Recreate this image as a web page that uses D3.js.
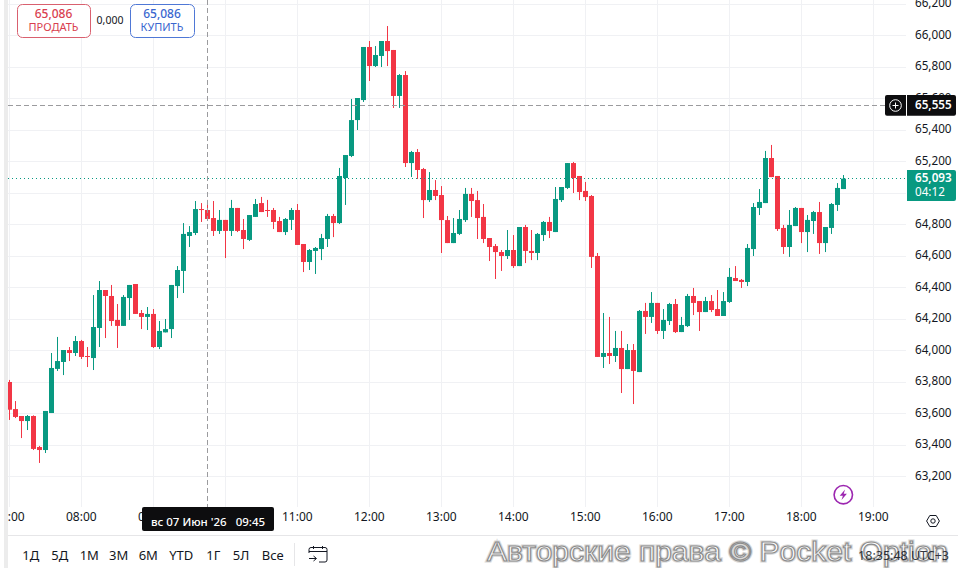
<!DOCTYPE html>
<html lang="ru">
<head>
<meta charset="utf-8">
<title>Свечной график</title>
<script src="https://cdn.jsdelivr.net/npm/d3@7"></script>
<style>
  html, body { margin: 0; padding: 0; background: #fff; overflow: hidden; }
  svg { display: block; }
  text { font-family: "Noto Sans", "Open Sans", sans-serif; }
</style>
</head>
<body>
<svg id="chart" width="958" height="568"></svg>
<script>
// Five-minute candles, session of 07 June 2026 starting at 07:00
const sessionStart = new Date(2026, 5, 7, 7, 0);
const candleMinutes = 5;

const opens = [
  63802,63630,63586,63554,63586,63389,63370,63605,63885,63929,64005,63986,64062,63967,63954,64145,64386,64348,64196,64158,
  64335,64424,64240,64215,64234,64024,64117,64138,64411,64507,64729,64748,64900,64894,64843,64761,64831,64761,64907,64767,
  64704,64850,64938,64894,64894,64824,64754,64831,64894,64678,64564,64634,64646,64710,64856,64811,65097,65237,65465,65592,
  65929,65808,65872,65967,65910,65618,65751,65192,65262,65154,64957,65021,64989,64830,64684,64742,64830,64996,64957,64850,
  64716,64665,64627,64602,64640,64538,64786,64634,64621,64735,64818,64754,64957,65034,65192,65110,65015,64983,64602,63961,
  63986,63967,64018,63884,64005,63865,64253,64215,64304,64126,64189,64297,64119,64157,64348,64316,64246,64316,64265,64221,
  64310,64462,64450,64437,64646,64907,64938,65224,65110,64780,64659,64792,64907,64754,64824,64881,64684,64780,64926,65027
];
const highs = [
  63815,63681,63586,63592,63590,63396,63618,63986,64088,64005,64024,64094,64069,64024,64354,64443,64386,64418,64297,64354,
  64418,64424,64259,64278,64265,64189,64202,64418,64538,64811,64792,64951,64938,64958,64951,64894,64831,64958,64907,64837,
  64862,64964,64977,64958,64907,64850,64843,64907,64932,64678,64646,64659,64742,64869,64869,65161,65243,65599,65605,65929,
  65967,65935,65967,66062,65910,65757,65776,65269,65281,65161,65135,65084,65046,64856,64843,64894,65034,65034,65015,64932,
  64716,64678,64640,64767,64735,64786,64799,64767,64748,64824,64850,65040,65040,65192,65199,65110,65072,64989,64621,64240,
  64215,64126,64126,64043,64043,64259,64304,64373,64304,64265,64304,64329,64215,64361,64399,64316,64342,64354,64386,64373,
  64526,64538,64456,64678,64938,65027,65269,65307,65110,64799,64894,64913,64907,64862,64888,64945,64786,64938,65065,65116
];
const lows = [
  63561,63573,63446,63497,63370,63288,63351,63605,63872,63846,63935,63967,63948,63897,63878,64024,64081,64158,64018,64158,
  64196,64234,64138,64132,64018,64011,64117,64081,64335,64367,64659,64735,64818,64824,64729,64742,64589,64729,64754,64646,
  64697,64850,64881,64850,64773,64754,64735,64767,64672,64500,64513,64488,64576,64659,64722,64805,64926,65230,65402,65580,
  65713,65802,65802,65808,65542,65542,65167,65104,65091,64843,64945,64957,64621,64684,64684,64735,64818,64850,64710,64684,
  64570,64456,64507,64583,64526,64538,64557,64576,64576,64697,64716,64754,64945,65027,65002,64957,64951,64526,63961,63891,
  63916,63929,63732,63884,63662,63865,64107,64177,64107,64075,64164,64113,64119,64151,64227,64126,64246,64246,64221,64221,
  64304,64443,64399,64411,64602,64862,64938,65103,64761,64615,64596,64792,64684,64627,64742,64615,64627,64742,64888,65027
];
const closes = [
  63626,63580,63554,63586,63377,63370,63618,63891,63935,64005,63986,64062,63961,63961,64151,64386,64348,64189,64158,64342,
  64418,64234,64215,64234,64024,64126,64138,64418,64513,64742,64754,64900,64894,64837,64761,64831,64761,64907,64761,64710,
  64862,64932,64881,64888,64818,64754,64837,64894,64672,64564,64640,64653,64716,64856,64811,65110,65243,65465,65605,65929,
  65808,65878,65967,65903,65618,65751,65192,65262,65148,64957,65021,64983,64830,64684,64748,64837,64996,64951,64843,64710,
  64659,64627,64602,64640,64538,64786,64634,64621,64742,64818,64761,64964,65040,65192,65097,65008,64976,64596,63961,63986,
  63967,64018,63884,64005,63872,64253,64215,64304,64126,64196,64297,64119,64164,64348,64304,64246,64316,64259,64221,64316,
  64469,64443,64437,64653,64913,64945,65224,65103,64773,64659,64799,64907,64754,64831,64881,64684,64786,64932,65034,65093
];

const priceTicks = [63200,63400,63600,63800,64000,64200,64400,64600,64800,65000,65200,65400,65600,65800,66000,66200];
const hourTicks = [7,8,9,10,11,12,13,14,15,16,17,18,19];
const rangeButtons = ["1Д","5Д","1М","3М","6М","YTD","1Г","5Л","Все"];

const crosshairPrice = 65555;
const lastPrice = 65093;
const countdown = "04:12";
const crosshairTime = new Date(2026, 5, 7, 9, 45);
const crosshairLabel = "вс 07 Июн '26   09:45";
const sellPrice = "65,086";
const buyPrice = "65,086";
const spreadText = "0,000";
const clockText = "18:35:48 UTC+3";
const copyrightText = "Авторские права © Pocket Option";

const UP = "#089981", DOWN = "#f23645", GRID = "#f0f1f4", INK = "#131722";

const svg = d3.select("#chart");

const x = d3.scaleTime()
  .domain([new Date(2026, 5, 7, 7, 0), new Date(2026, 5, 7, 19, 0)])
  .range([9.3, 873.3]);
const y = d3.scaleLinear()
  .domain([63200, 66200])
  .range([476.8, 4.3]);

// Snap a scaled position to the centre of its device pixel
const crisp = v => Math.floor(v) + 0.5;

const candles = opens.map((open, i) => ({
  time: d3.timeMinute.offset(sessionStart, i * candleMinutes),
  open, high: highs[i], low: lows[i], close: closes[i]
}));

// Grid
const grid = svg.append("g");
grid.selectAll("line.h").data(priceTicks).join("line")
  .attr("class", "h")
  .attr("x1", 8).attr("x2", 906)
  .attr("y1", d => crisp(y(d))).attr("y2", d => crisp(y(d)))
  .attr("stroke", GRID);
grid.selectAll("line.v").data(hourTicks).join("line")
  .attr("class", "v")
  .attr("x1", d => crisp(x(new Date(2026, 5, 7, d))))
  .attr("x2", d => crisp(x(new Date(2026, 5, 7, d))))
  .attr("y1", 0).attr("y2", 507)
  .attr("stroke", GRID);

// Candles: wick first, body on top
const candleLayer = svg.append("g");
const candleG = candleLayer.selectAll("g").data(candles).join("g")
  .attr("fill", d => d.close >= d.open ? UP : DOWN);
candleG.append("rect")
  .attr("x", d => Math.floor(x(d.time)))
  .attr("width", 1)
  .attr("y", d => y(d.high))
  .attr("height", d => Math.max(1, y(d.low) - y(d.high)));
candleG.append("rect")
  .attr("x", d => Math.floor(x(d.time)) - 2)
  .attr("width", 5)
  .attr("y", d => y(Math.max(d.open, d.close)))
  .attr("height", d => Math.max(1, Math.abs(y(d.open) - y(d.close))));

// Crosshair and last-price lines
svg.append("line")
  .attr("x1", crisp(x(crosshairTime))).attr("x2", crisp(x(crosshairTime)))
  .attr("y1", 0).attr("y2", 507)
  .attr("stroke", "#9b9b9e").attr("stroke-dasharray", "5 3");
svg.append("line")
  .attr("x1", 8).attr("x2", 885)
  .attr("y1", crisp(y(crosshairPrice))).attr("y2", crisp(y(crosshairPrice)))
  .attr("stroke", "#9b9b9e").attr("stroke-dasharray", "5 3");
svg.append("line")
  .attr("x1", 8).attr("x2", 907)
  .attr("y1", crisp(y(lastPrice))).attr("y2", crisp(y(lastPrice)))
  .attr("stroke", UP).attr("stroke-dasharray", "1 3");

// Price axis
const priceAxis = d3.axisRight(y)
  .tickValues(priceTicks)
  .tickSize(0)
  .tickPadding(0)
  .tickFormat(d3.format(","));
svg.append("g")
  .attr("transform", "translate(915,-1.5)")
  .call(priceAxis)
  .call(g => g.select(".domain").remove())
  .call(g => g.selectAll("text").attr("font-size", 11.7).attr("fill", INK)
    .style("font-family", '"Noto Sans", sans-serif'));

// Time axis
const timeAxis = d3.axisBottom(x)
  .tickValues(hourTicks.map(h => new Date(2026, 5, 7, h)))
  .tickSize(0)
  .tickPadding(0)
  .tickFormat(d3.timeFormat("%H:%M"));
svg.append("g")
  .attr("transform", "translate(-0.5,512.5)")
  .call(timeAxis)
  .call(g => g.select(".domain").remove())
  .call(g => g.selectAll("text").attr("font-size", 12).attr("fill", INK)
    .style("font-family", '"Noto Sans", sans-serif'));

// Crosshair price tag with its plus button
svg.append("path")
  .attr("d", "M887 95H906V115.7H887a2 2 0 0 1 -2 -2V97a2 2 0 0 1 2 -2Z")
  .attr("fill", "#0d0d0f");
svg.append("path")
  .attr("d", "M907 95H954a2 2 0 0 1 2 2V113.7a2 2 0 0 1 -2 2H907Z")
  .attr("fill", "#0d0d0f");
svg.append("circle")
  .attr("cx", 895.5).attr("cy", 105.5).attr("r", 5.8)
  .attr("fill", "none").attr("stroke", "#fff");
svg.append("path")
  .attr("d", "M892.5 105.5h6M895.5 102.5v6")
  .attr("stroke", "#fff").attr("fill", "none");
svg.append("text")
  .attr("x", 915).attr("y", 105).attr("dy", "0.36em")
  .attr("font-size", 11.7).attr("font-weight", 600).attr("fill", "#fff")
  .text(d3.format(",")(crosshairPrice));

// Last-price tag with the countdown to the candle close
svg.append("path")
  .attr("d", "M907 170H954a2 2 0 0 1 2 2V199a2 2 0 0 1 -2 2H907Z")
  .attr("fill", UP);
svg.append("text")
  .attr("x", 915).attr("y", 178).attr("dy", "0.36em")
  .attr("font-size", 11.7).attr("font-weight", 600).attr("fill", "#fff")
  .text(d3.format(",")(lastPrice));
svg.append("text")
  .attr("x", 915).attr("y", 192).attr("dy", "0.36em")
  .attr("font-size", 11.7).attr("fill", "#fff")
  .text(countdown);

// Sell / spread / buy buttons
function tradeButton(left, width, stroke, textColor, priceText, caption) {
  svg.append("rect")
    .attr("x", left + 0.5).attr("y", 4.5).attr("width", width).attr("height", 33).attr("rx", 5)
    .attr("fill", "#fff").attr("stroke", stroke);
  const cx = left + width / 2;
  svg.append("text").attr("x", cx).attr("y", 13.5).attr("dy", "0.36em")
    .attr("text-anchor", "middle").attr("font-size", 12).attr("font-weight", 500)
    .attr("fill", textColor).text(priceText);
  svg.append("text").attr("x", cx).attr("y", 27.5).attr("dy", "0.36em")
    .attr("text-anchor", "middle").attr("font-size", 11)
    .attr("fill", textColor).text(caption);
}
tradeButton(17, 73, "#d9606f", "#d9404f", sellPrice, "ПРОДАТЬ");
tradeButton(130, 64, "#4f78d6", "#3a67cf", buyPrice, "КУПИТЬ");
svg.append("text").attr("x", 110).attr("y", 20.5).attr("dy", "0.36em")
  .attr("text-anchor", "middle").attr("font-size", 10.5).attr("fill", INK).text(spreadText);

// Crosshair date tag
svg.append("rect")
  .attr("x", 142).attr("y", 507).attr("width", 132).attr("height", 24).attr("rx", 2)
  .attr("fill", "#0d0d0f");
svg.append("text").attr("x", 208).attr("y", 521.5).attr("dy", "0.36em")
  .attr("text-anchor", "middle").attr("font-size", 11.5).attr("font-weight", 500)
  .attr("fill", "#fff").style("white-space", "pre")
  .text(crosshairLabel);

// Purple lightning badge
const badge = svg.append("g").attr("transform", "translate(843.3,494.7)");
badge.append("circle").attr("r", 9.2).attr("fill", "#fff").attr("stroke", "#9c27b0").attr("stroke-width", 1.6);
badge.append("path").attr("d", "M1.8 -5.2L-3.6 1H-0.4L-1.8 5.2L3.6 -1H0.4Z").attr("fill", "#9c27b0");

// Chart settings icon
svg.append("path")
  .attr("d", "M926.6 521L929.8 515.5H936.2L939.4 521L936.2 526.5H929.8Z")
  .attr("fill", "none").attr("stroke", INK).attr("stroke-width", 1);
svg.append("circle").attr("cx", 933).attr("cy", 521).attr("r", 2.2)
  .attr("fill", "none").attr("stroke", INK);

// Bottom toolbar
svg.append("line").attr("x1", 8).attr("x2", 958).attr("y1", 535.5).attr("y2", 535.5).attr("stroke", "#e6e6e8");
const buttonX = [30.7, 59.7, 89.3, 118.7, 148.3, 181.3, 213.3, 241, 272.7];
svg.append("g").selectAll("text").data(rangeButtons).join("text")
  .attr("x", (d, i) => buttonX[i]).attr("y", 555.5).attr("dy", "0.36em")
  .attr("text-anchor", "middle").attr("font-size", 13).attr("fill", INK)
  .text(d => d);
svg.append("line").attr("x1", 294.5).attr("x2", 294.5).attr("y1", 543).attr("y2", 566).attr("stroke", "#e6e6e8");
svg.append("path")
  .attr("d", "M309 553V549.5a2 2 0 0 1 2 -2H325a2 2 0 0 1 2 2V560a2 2 0 0 1 -2 2H319M309 551.5H327M313.5 546V549M322.5 546V549M309 558.5H316M313.5 556L316.5 558.5L313.5 561")
  .attr("fill", "none").attr("stroke", INK).attr("stroke-width", 1);

// Outlined copyright line: soft halo, then a thin dark contour with a white core
[[3.2, "#d9d9d9"], [1.1, "#8c8c8c"]].forEach(([width, colour]) => {
  svg.append("text").attr("x", 487).attr("y", 560.5)
    .attr("font-size", 27)
    .attr("fill", "#fff")
    .attr("stroke", colour).attr("stroke-width", width)
    .attr("textLength", 461).attr("lengthAdjust", "spacingAndGlyphs")
    .style("font-family", '"Liberation Sans", sans-serif')
    .text(copyrightText);
});

// Clock printed over the copyright line
svg.append("text").attr("x", 949).attr("y", 555).attr("dy", "0.36em")
  .attr("text-anchor", "end").attr("font-size", 12.5).attr("fill", INK)
  .attr("opacity", 0.85)
  .text(clockText);

// Left margin strip masks whatever runs past the plot edge
svg.append("rect").attr("x", 0).attr("y", 0).attr("width", 4).attr("height", 568).attr("fill", "#fff");
svg.append("rect").attr("x", 4).attr("y", 0).attr("width", 4).attr("height", 568).attr("fill", "#ececec");
</script>
</body>
</html>
